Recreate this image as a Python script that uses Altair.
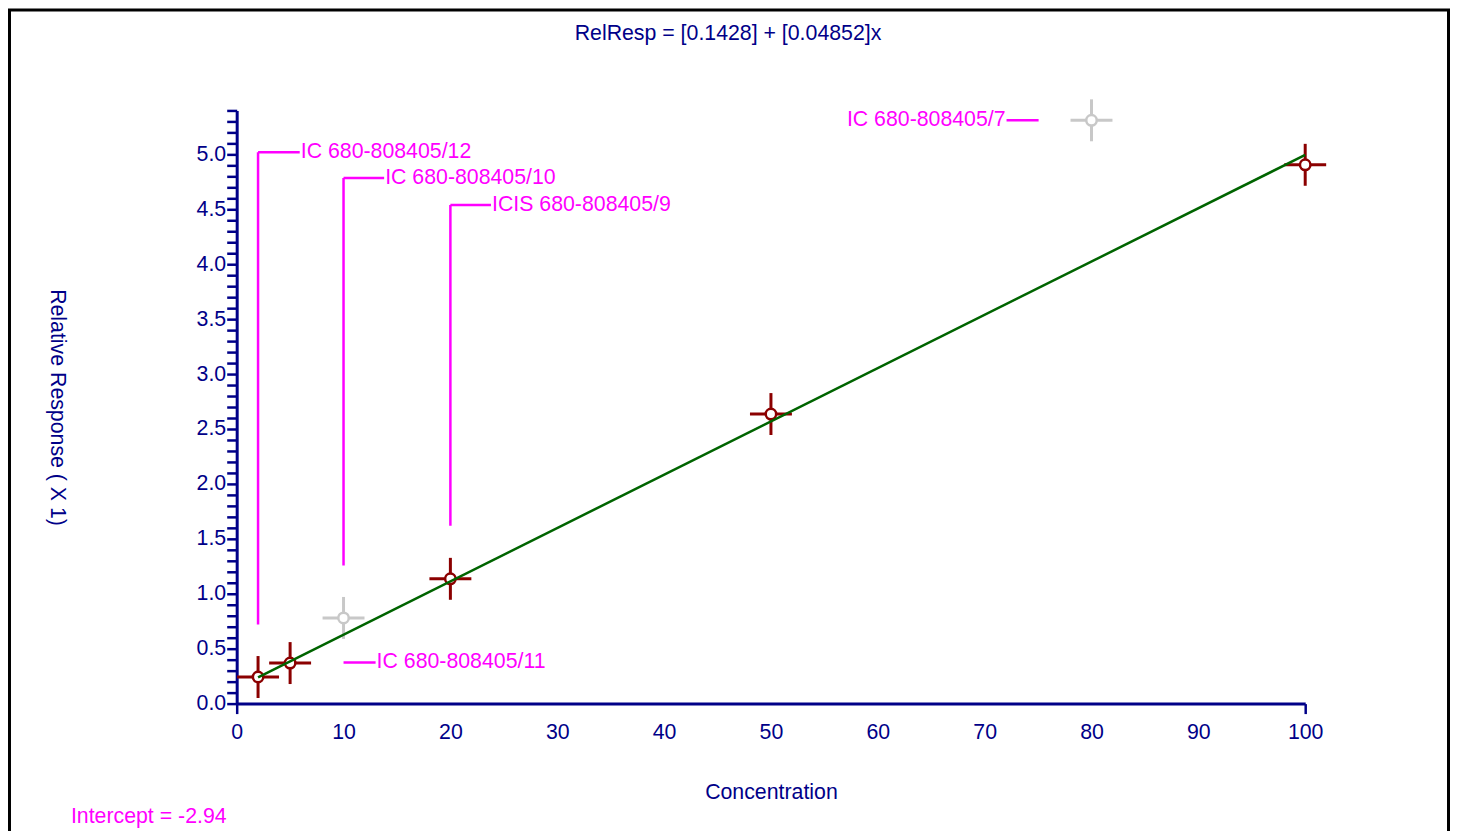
import altair as alt
import pandas as pd

# ---------------- data ----------------
conc = [2, 5, 10, 20, 50, 80, 100]
rel_resp = [0.242, 0.369, 0.78, 1.136, 2.636, 5.31, 4.905]
excluded = [False, False, True, False, False, True, False]

fit_intercept = 0.1428
fit_slope = 0.04852
fit_x = [2, 100]

x_tick_values = [0, 10, 20, 30, 40, 50, 60, 70, 80, 90, 100]
y_tick_values = [round(i * 0.1, 1) for i in range(0, 55)]

ann_labels = ["IC 680-808405/12", "IC 680-808405/10", "ICIS 680-808405/9",
              "IC 680-808405/11", "IC 680-808405/7"]
ann_side = ["left", "left", "left", "left", "right"]
ann_hx0 = [2, 10, 20, 10, 72.05]
ann_hx1 = [5.9, 13.8, 23.8, 13.0, 75.05]
ann_hy = [5.02, 4.785, 4.54, 0.375, 5.31]
ann_vx = [2, 10, 20]
ann_vy0 = [0.72, 1.257, 1.62]
ann_vy1 = [5.02, 4.785, 4.54]

title_text = "RelResp = [0.1428] + [0.04852]x"
intercept_text = "Intercept = -2.94"
x_title = "Concentration"
y_title = "Relative Response ( X 1)"

# ---------------- styling ----------------
NAVY = "#000088"
RED = "#8B0000"
GRAY = "#C8C8C8"
GREEN = "#006400"
MAGENTA = "#FF00FF"
FONT = "Liberation Sans"
FS = 21.33
W, H = 1070, 594

points = pd.DataFrame({"conc": conc, "resp": rel_resp, "excluded": excluded})
fit = pd.DataFrame({"fx": fit_x, "fy": [fit_intercept + fit_slope * v for v in fit_x]})
hlines = pd.DataFrame({"x0": ann_hx0, "x1": ann_hx1, "y": ann_hy,
                       "label": ann_labels, "side": ann_side})
vlines = pd.DataFrame({"x": ann_vx, "y0": ann_vy0, "y1": ann_vy1})
texts = pd.DataFrame({"t": [title_text], "i": [intercept_text]})

xs = alt.Scale(domain=[0, 100], nice=False, zero=False)
ys = alt.Scale(domain=[0, 5.4], nice=False, zero=False)

x_axis = alt.Axis(
    values=x_tick_values, grid=False, title=x_title,
    domainColor=NAVY, domainWidth=3,
    tickColor=NAVY, tickWidth=2.5, tickSize=10,
    tickOpacity={"condition": {"test": "datum.value === 0 || datum.value === 100", "value": 1}, "value": 0},
    labelColor=NAVY, labelFont=FONT, labelFontSize=FS, labelPadding=8,
    labelFlush=False, labelOverlap=False,
    titleColor=NAVY, titleFont=FONT, titleFontSize=FS, titleFontWeight="normal",
    titleX=W / 2, titleY=89, titleAlign="center", titleBaseline="middle",
)
y_axis = alt.Axis(
    values=y_tick_values, grid=False, title=y_title,
    labelExpr="round(datum.value*10) % 5 == 0 ? format(datum.value, '.1f') : ''",
    domainColor=NAVY, domainWidth=3,
    tickColor=NAVY, tickWidth=2.5, tickSize=10,
    labelColor=NAVY, labelFont=FONT, labelFontSize=FS, labelPadding=1,
    labelOverlap=False, labelFlush=False,
    titleColor=NAVY, titleFont=FONT, titleFontSize=FS, titleFontWeight="normal",
    titleAngle=90, titleX=-180, titleY=H / 2, titleAlign="center", titleBaseline="middle",
)


def X(field):
    return alt.X(field, scale=xs, axis=x_axis, title=x_title)


def Y(field):
    return alt.Y(field, scale=ys, axis=y_axis, title=y_title)


frame = alt.Chart(texts).mark_rect(fill="white", fillOpacity=0, stroke="black", strokeWidth=3).encode(
    x=alt.value(-227.5), x2=alt.value(1213.5), y=alt.value(-100.5), y2=alt.value(900)
)

color_cond = alt.condition("datum.excluded", alt.value(GRAY), alt.value(RED))

hcross = alt.Chart(points).mark_rule(strokeWidth=3, xOffset=-21, x2Offset=21).encode(
    x=X("conc:Q"), x2="conc:Q", y=Y("resp:Q"), color=color_cond,
)
vcross = alt.Chart(points).mark_rule(strokeWidth=3, yOffset=-21, y2Offset=21).encode(
    x=X("conc:Q"), y=Y("resp:Q"), y2="resp:Q", color=color_cond,
)
circles = alt.Chart(points).mark_point(shape="circle", size=110, fill="white", fillOpacity=1,
                                       strokeWidth=2.5, opacity=1).encode(
    x=X("conc:Q"), y=Y("resp:Q"), stroke=color_cond,
)
fit_line = alt.Chart(fit).mark_line(color=GREEN, strokeWidth=2.5).encode(
    x=X("fx:Q"), y=Y("fy:Q"),
)
v_leaders = alt.Chart(vlines).mark_rule(color=MAGENTA, strokeWidth=2.5).encode(
    x=X("x:Q"), y=Y("y0:Q"), y2="y1:Q",
)
h_leaders = alt.Chart(hlines).mark_rule(color=MAGENTA, strokeWidth=2.5).encode(
    x=X("x0:Q"), x2="x1:Q", y=Y("y:Q"),
)
left_labels = alt.Chart(hlines).transform_filter("datum.side == 'left'").mark_text(
    align="left", baseline="middle", dx=1, font=FONT, fontSize=FS, color=MAGENTA
).encode(x=X("x1:Q"), y=Y("y:Q"), text="label:N")
right_labels = alt.Chart(hlines).transform_filter("datum.side == 'right'").mark_text(
    align="right", baseline="middle", dx=-1, font=FONT, fontSize=FS, color=MAGENTA
).encode(x=X("x0:Q"), y=Y("y:Q"), text="label:N")
title_mark = alt.Chart(texts).mark_text(
    align="center", baseline="middle", font=FONT, fontSize=FS, color=NAVY
).encode(x=alt.value(492), y=alt.value(-77), text="t:N")
intercept_mark = alt.Chart(texts).mark_text(
    align="left", baseline="middle", font=FONT, fontSize=FS, color=MAGENTA
).encode(x=alt.value(-166), y=alt.value(708), text="i:N")

chart = alt.layer(
    hcross, frame, vcross, circles, fit_line, v_leaders, h_leaders,
    left_labels, right_labels, title_mark, intercept_mark
).properties(
    width=W, height=H,
    autosize=alt.AutoSizeParams(type="none"),
    padding={"left": 229, "top": 102, "right": 145, "bottom": 127},
).configure(background="white").configure_view(stroke=None)

chart.save("out.html", embed_options={"renderer": "svg", "actions": False})
